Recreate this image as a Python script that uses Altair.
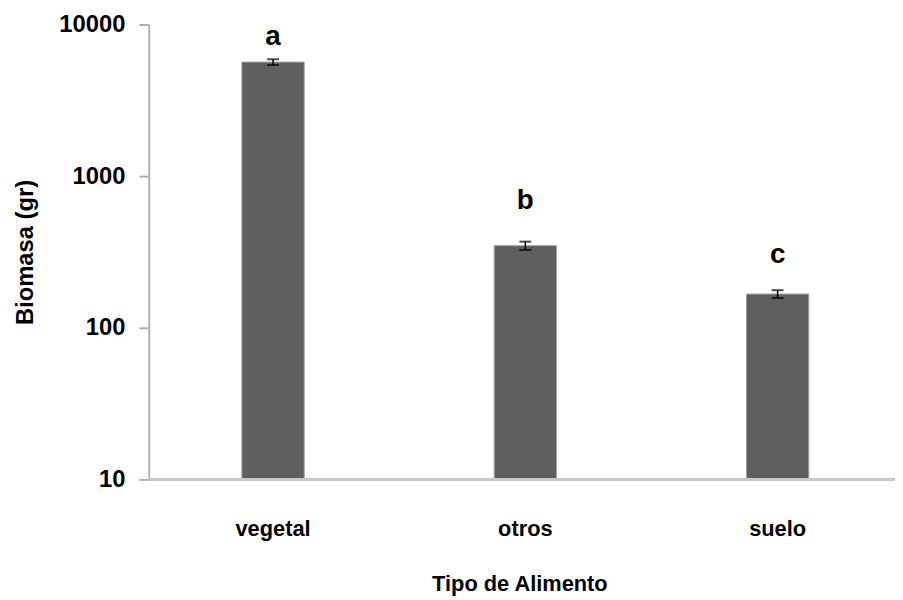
import altair as alt
import pandas as pd

categories = ["vegetal", "otros", "suelo"]
biomasa = [5650, 348, 167]
error = [250, 22, 10]
letters = ["a", "b", "c"]
letter_pos = [7300, 610, 266]

df = pd.DataFrame({
    "cat": categories,
    "val": biomasa,
    "lo": [v - e for v, e in zip(biomasa, error)],
    "hi": [v + e for v, e in zip(biomasa, error)],
    "letter": letters,
    "lpos": letter_pos,
})

FONT = "Liberation Sans"
PLOT_W = 753

x = alt.X("cat:N", sort=categories,
          scale=alt.Scale(range=[94, 666], paddingInner=0.753, paddingOuter=0, round=False),
          axis=alt.Axis(title="Tipo de Alimento", labelAngle=0, tickSize=0,
                        labelPadding=40, titlePadding=34, titleX=374, domain=False))
yscale = alt.Scale(type="log", domain=[10, 10000], nice=False)

base = alt.Chart(df)

bars = base.mark_bar(color="#5f5f5f", stroke="#a0a0a0", strokeWidth=1).encode(
    x=x,
    y=alt.Y("val:Q", scale=yscale,
            axis=alt.Axis(title="Biomasa (gr)", values=[10, 100, 1000, 10000],
                          format="d", grid=False, tickSize=10, tickColor="#b0b0b0",
                          tickWidth=2, domainColor="#b0b0b0", domainWidth=2,
                          labelPadding=14, labelFontSize=24, titleFontSize=24,
                          titlePadding=22)),
    y2=alt.datum(10),
)

baseline = base.mark_rule(color="#c8c8c8", strokeWidth=3).encode(
    y=alt.datum(10), x=alt.value(0), x2=alt.value(PLOT_W))

err = base.mark_rule(color="black", strokeWidth=1.5).encode(
    x=alt.X("cat:N", sort=categories), y="lo:Q", y2="hi:Q")
cap_hi = base.mark_tick(color="black", size=12, thickness=2, orient="horizontal").encode(
    x=alt.X("cat:N", sort=categories), y="hi:Q")
cap_lo = base.mark_tick(color="black", size=12, thickness=2, orient="horizontal").encode(
    x=alt.X("cat:N", sort=categories), y="lo:Q")

text = base.mark_text(font=FONT, fontWeight="bold", fontSize=28, baseline="alphabetic",
                      color="black").encode(
    x=alt.X("cat:N", sort=categories), y="lpos:Q", text="letter:N")

chart = alt.layer(bars, baseline, err, cap_hi, cap_lo, text).properties(
    width=PLOT_W, height=459,
    autosize=alt.AutoSizeParams(type="none"),
    padding={"left": 142, "top": 14, "right": 0, "bottom": 118},
).configure_view(stroke=None).configure_axis(
    labelFont=FONT, titleFont=FONT, labelFontWeight="bold", titleFontWeight="bold",
    labelFontSize=22, titleFontSize=22, labelColor="black", titleColor="black",
)

chart.save("out.html", embed_options={"renderer": "svg", "actions": False})
